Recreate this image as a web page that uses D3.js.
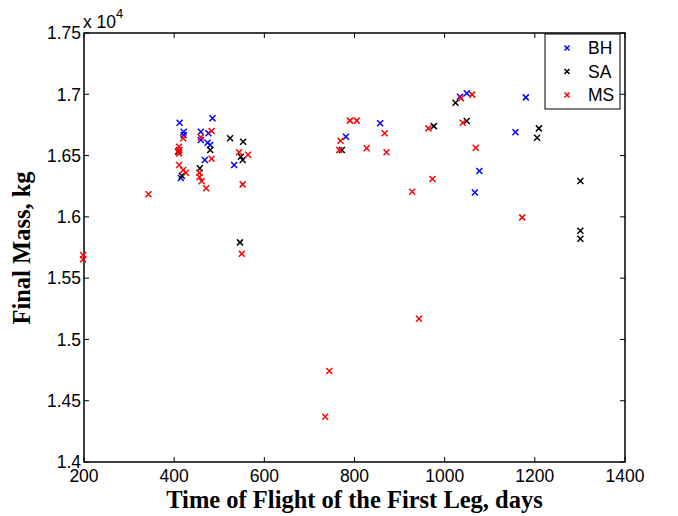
<!DOCTYPE html>
<html>
<head>
<meta charset="utf-8">
<script src="https://cdn.jsdelivr.net/npm/d3@7"></script>
<style>
body{margin:0;background:#fff;}
text{font-family:"Liberation Sans",Arial,sans-serif;}
.lab{font-family:"Liberation Serif","Times New Roman",serif;font-weight:bold;}
</style>
</head>
<body>
<div id="wrap"></div>
<script>
// values (time of flight in days, final mass in kg)
var bhX = [412,485,421,421,459,459,476,474,480,468,533,415,857,781,1034,1049,1077,1067,1180,1157];
var bhY = [16768,16804,16695,16668,16695,16627,16682,16605,16586,16464,16423,16317,16763,16654,16980,17008,16374,16199,16975,16690];
var saX = [409,524,553,480,548,552,457,417,546,772,976,1049,1024,1209,1205,1301,1301,1301];
var saY = [16532,16641,16613,16545,16491,16464,16396,16336,15792,16545,16740,16782,16931,16722,16646,16292,15887,15822];
var msX = [420,411,411,411,459,483,544,564,483,411,420,426,456,456,461,471,552,343,198,198,550,790,805,867,769,766,827,871,964,1040,1036,1061,1069,973,928,1172,943,744,735];
var msY = [16641,16572,16545,16518,16649,16700,16527,16507,16474,16423,16382,16360,16360,16325,16290,16233,16265,16184,15689,15654,15699,16785,16785,16682,16621,16545,16559,16527,16722,16768,16967,16997,16564,16309,16205,15996,15169,14742,14369];
var xTicks = [200,400,600,800,1000,1200,1400];
var yTicks = [1.4,1.45,1.5,1.55,1.6,1.65,1.7,1.75];
var names = ["BH","SA","MS"];
var cols = ["#0000ff","#000000","#ff0000"];

var chart = {};
chart.width = 678;
chart.height = 516;
chart.m = {left:84, top:33, right:625, bottom:462};

chart.svg = d3.select("#wrap").append("svg")
	.attr("width",chart.width).attr("height",chart.height);

chart.x = d3.scaleLinear().domain([200,1400]).range([chart.m.left,chart.m.right]);
chart.y = d3.scaleLinear().domain([1.4,1.75]).range([chart.m.bottom,chart.m.top]);

var svg = chart.svg;
var x = chart.x, y = chart.y;
var tl = 5; //tick length, ticks drawn inward like matlab

// frame
svg.append("rect")
	.attr("x",chart.m.left).attr("y",chart.m.top)
	.attr("width",chart.m.right-chart.m.left).attr("height",chart.m.bottom-chart.m.top)
	.attr("fill","none").attr("stroke","#000").attr("stroke-width",1.5);

// ticks on all four sides
var g = svg.append("g").attr("stroke","#000").attr("stroke-width",1);
xTicks.forEach(function(t){
	g.append("line").attr("x1",x(t)).attr("x2",x(t)).attr("y1",chart.m.bottom).attr("y2",chart.m.bottom-tl);
	g.append("line").attr("x1",x(t)).attr("x2",x(t)).attr("y1",chart.m.top).attr("y2",chart.m.top+tl);
});
yTicks.forEach(function(t){
	g.append("line").attr("y1",y(t)).attr("y2",y(t)).attr("x1",chart.m.left).attr("x2",chart.m.left+tl);
	g.append("line").attr("y1",y(t)).attr("y2",y(t)).attr("x1",chart.m.right).attr("x2",chart.m.right-tl);
});

// tick labels
svg.append("g").selectAll("text").data(xTicks).enter().append("text")
	.attr("x",function(d){return x(d)}).attr("y",482)
	.attr("text-anchor","middle").attr("font-size",17.5).text(function(d){return d});
svg.append("g").selectAll("text").data(yTicks).enter().append("text")
	.attr("x",chart.m.left-3).attr("y",function(d){return y(d)})
	.attr("dy","0.36em").attr("text-anchor","end").attr("font-size",17.5)
	.text(function(d){return d3.format("")(d)});

// exponent
var ex = svg.append("text").attr("x",chart.m.left-1).attr("y",28).attr("font-size",17.5);
ex.append("tspan").text("x 10");
ex.append("tspan").attr("font-size",13).attr("dy",-10).text("4");

// axis labels
svg.append("text").attr("class","lab").attr("x",(chart.m.left+chart.m.right)/2).attr("y",508)
	.attr("text-anchor","middle").attr("font-size",24.5).text("Time of Flight of the First Leg, days");
svg.append("text").attr("class","lab").attr("transform","translate(30,248) rotate(-90)")
	.attr("text-anchor","middle").attr("font-size",24.5).text("Final Mass, kg");

// markers
var cross = function(sel, s){
	sel.append("path")
		.attr("d","M"+(-s)+","+(-s)+"L"+s+","+s+"M"+(-s)+","+s+"L"+s+","+(-s))
		.attr("fill","none").attr("stroke-width",1.5);
};
var series = [[bhX,bhY],[saX,saY],[msX,msY]];
series.forEach(function(sr,i){
	var pts = sr[0].map(function(v,k){return {x:v, y:sr[1][k]/1e4}});
	var layer = svg.append("g").attr("stroke",cols[i]);
	var p = layer.selectAll("g").data(pts).enter().append("g")
		.attr("transform",function(d){return "translate("+x(d.x)+","+y(d.y)+")"});
	cross(p, 3);
});

// legend
var lg = svg.append("g");
lg.append("rect").attr("x",545).attr("y",34).attr("width",75).attr("height",75)
	.attr("fill","#fff").attr("stroke","#000").attr("stroke-width",1);
names.forEach(function(n,i){
	var row = lg.append("g").attr("transform","translate(567,"+(48+i*23.5)+")");
	var m = row.append("g").attr("stroke",cols[i]);
	cross(m, 2.5);
	row.append("text").attr("x",21).attr("dy","0.36em").attr("font-size",17.5).attr("fill","#000").text(n);
});
</script>
</body>
</html>
